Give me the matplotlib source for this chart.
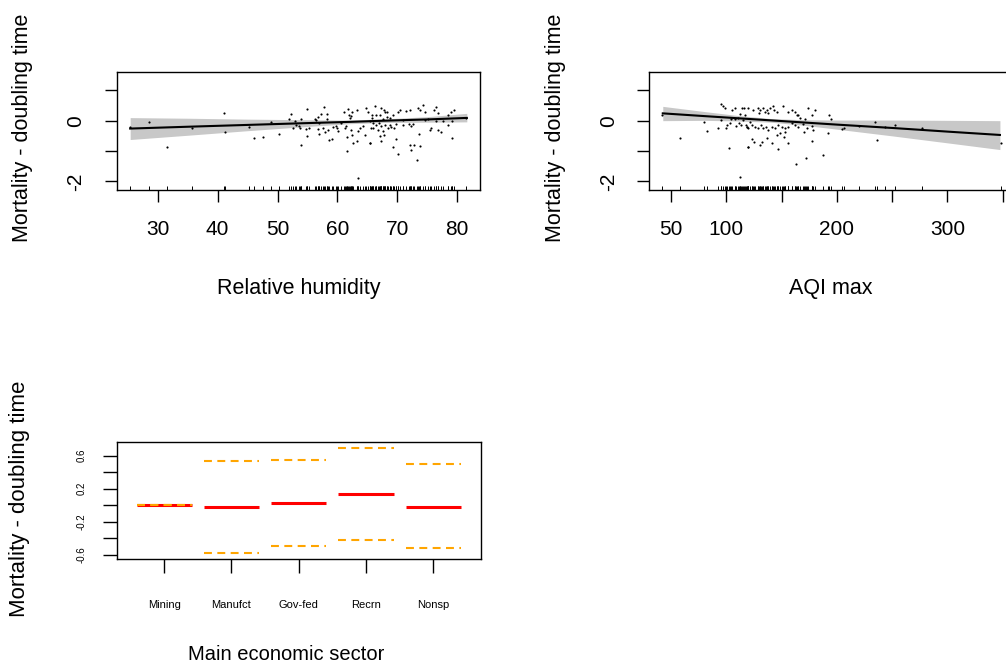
import matplotlib
matplotlib.use("Agg")
import matplotlib.pyplot as plt
import matplotlib.transforms as mtransforms

plt.rcParams['font.family'] = ['Liberation Sans', 'DejaVu Sans']

# ---------------- data: panel 1 (relative humidity) ----------------
rh_x = [25.4, 28.6, 31.5, 35.7, 41.1, 41.3, 45.2, 46.1, 47.5, 48.9, 50.2,
        52.2, 51.9, 52.9, 52.6, 53.1, 53.6, 53.9, 53.7, 54.0, 54.7, 54.9, 54.9,
        55.2, 56.2, 56.4, 56.8, 56.9, 57.2, 57.7, 58.2, 58.2, 56.7, 56.9, 57.6,
        58.0, 58.4, 58.6, 59.1, 59.3, 59.8, 59.9, 60.1, 60.6, 61.2, 61.1, 61.5,
        61.7, 61.9, 62.1, 62.3, 62.4, 63.2, 62.2, 62.4, 61.6, 61.6, 62.6, 63.2,
        63.4, 63.8, 64.3, 64.6, 64.8, 65.1, 65.4, 65.6, 65.7, 63.4,
        66.2, 67.3, 67.7, 68.0, 68.3, 66.5, 67.1, 65.8, 67.6, 68.2, 68.8, 69.3,
        70.1, 70.4, 70.9, 71.4, 72.1, 73.4, 73.7, 74.3, 74.6, 76.2, 76.5, 76.8,
        78.4, 79.0, 79.4, 65.4, 65.9, 66.5, 66.9, 67.3, 67.9, 68.4, 68.7, 69.0,
        69.5, 69.8, 66.0, 66.8, 67.6, 67.1, 67.7, 67.3, 65.4, 70.9, 71.9, 72.3,
        72.6, 73.6, 74.6, 75.1, 75.4, 75.7, 76.5, 76.8, 77.3, 77.6, 78.4, 79.2,
        79.2, 69.7, 69.3, 70.1, 72.1, 72.7, 72.2, 73.8, 73.2, 81.5]
rh_y = [-0.22, -0.06, -0.86, -0.24, 0.25, -0.38, -0.20, -0.58, -0.53, -0.06, -0.43,
        0.23, 0.07, 0.00, -0.24, -0.15, -0.19, 0.07, -0.24, -0.81, -0.26, -0.49, 0.37,
        -0.24, 0.07, 0.03, 0.11, -0.07, 0.23, 0.46, 0.07, 0.23, -0.27, -0.44, -0.24,
        -0.37, -0.30, -0.63, -0.60, -0.20, -0.16, -0.24, -0.35, -0.08, -0.24, 0.28, -0.19,
        0.39, 0.20, 0.09, 0.14, 0.30, 0.36, -0.30, -0.46, -0.55, -1.00, -0.73, -0.68,
        -0.35, -0.24, -0.19, -0.46, 0.42, 0.30, -0.73, -0.24, 0.20, -1.90,
        0.49, 0.42, 0.36, 0.30, 0.28, 0.17, 0.20, 0.09, 0.07, 0.11, 0.09, 0.20,
        0.30, 0.36, 0.03, 0.33, 0.36, 0.42, 0.36, 0.52, 0.30, 0.36, 0.44, 0.25,
        0.17, 0.28, 0.36, 0.00, -0.08, -0.13, -0.08, -0.19, -0.15, -0.24, -0.13, -0.21,
        -0.24, -0.11, -0.24, -0.30, -0.35, -0.51, -0.46, -0.68, -0.73, -0.13, -0.11, -0.19,
        -0.11, -0.43, 0.03, 0.07, -0.30, -0.24, -0.02, -0.30, -0.37, -0.02, -0.15, -0.02,
        -0.57, -0.60, -0.87, -1.11, -0.81, -0.79, -0.98, -0.84, -1.28, 0.09]
rh_grid = [25.4, 35, 45, 55, 62, 68, 75, 81.6]
rh_fit = [-0.26, -0.20, -0.14, -0.08, -0.04, 0.00, 0.04, 0.09]
rh_upper = [0.10, 0.08, 0.05, 0.03, 0.02, 0.06, 0.13, 0.24]
rh_lower = [-0.62, -0.48, -0.33, -0.19, -0.10, -0.06, -0.05, -0.04]

# ---------------- data: panel 2 (AQI max) ----------------
aqi_x = [41.5, 58.2, 79.6, 82.4, 92.4, 94.8, 95.5, 96.9, 99.1, 100.0, 100.9, 102.1,
         103.0, 103.9, 105.1, 107.5, 108.2, 109.1, 110.5, 111.2, 112.1, 113.0, 114.2,
         116.0, 115.1, 116.6, 117.3, 118.2, 119.1, 112.1,
         119.6, 124.2, 128.7, 130.3, 129.4, 133.3, 134.8, 136.4, 137.8, 139.4, 142.4,
         143.3, 145.5, 151.5, 156.0, 159.1, 162.1, 163.6, 165.1, 166.6, 173.6, 180.3,
         177.3, 171.2, 121.2, 118.2, 119.6, 122.7, 125.7, 128.2, 131.2, 133.3, 135.5,
         137.8, 140.9, 143.9, 146.9, 150.0, 153.0, 156.0, 159.1, 162.1, 165.1, 169.6,
         172.7, 177.3, 178.7, 122.7, 119.6, 125.1, 130.3, 132.4, 136.4, 140.9, 145.5,
         148.5, 152.4, 156.0, 146.9, 153.0, 177.3, 170.5, 171.8, 187.3, 162.7, 191.8,
         194.8, 192.4, 204.5, 206.0, 219.6, 234.8, 236.4, 243.9, 253.0, 276.6, 348.5]
aqi_y = [0.17, -0.57, -0.03, -0.34, -0.25, 0.02, 0.55, 0.49, 0.43, -0.25, -0.14, -0.90,
         -0.09, 0.06, 0.36, 0.41, 0.06, -0.19, 0.08, -0.09, 0.21, -0.14, 0.43,
         0.43, 0.02, 0.19, -0.14, -0.20, -0.87, -1.84,
         0.41, 0.36, 0.43, 0.36, 0.25, 0.41, 0.30, 0.36, 0.25, 0.43, 0.47,
         0.36, 0.30, 0.47, 0.30, 0.36, 0.30, 0.17, 0.19, 0.08, 0.41, 0.36,
         0.17, 0.06, -0.03, -0.20, -0.25, -0.14, -0.20, -0.25, -0.14, -0.25, -0.20,
         -0.31, -0.20, -0.25, -0.14, -0.20, -0.25, -0.20, -0.09, -0.14, -0.20, -0.12,
         -0.25, -0.17, -0.31, -0.59, -0.87, -0.70, -0.81, -0.70, -0.57, -0.75, -0.48,
         -0.42, -0.53, -0.75, -0.92, -0.37, -0.68, -0.37, -1.23, -1.14, -1.42, -0.40,
         0.06, 0.19, -0.28, -0.23, -0.18, -0.03, -0.62, -0.22, -0.14, -0.25, -0.73]
aqi_grid = [42.4, 80, 110, 140, 170, 200, 250, 300, 347.5]
aqi_fit = [0.24, 0.15, 0.08, 0.01, -0.06, -0.13, -0.24, -0.36, -0.47]
aqi_upper = [0.47, 0.30, 0.17, 0.07, 0.03, 0.02, 0.02, 0.01, 0.00]
aqi_lower = [0.00, 0.01, -0.01, -0.05, -0.15, -0.28, -0.50, -0.73, -0.95]

# ---------------- data: panel 3 (main economic sector) ----------------
sectors = ['Mining', 'Manufct', 'Gov-fed', 'Recrn', 'Nonsp']
sector_fit = [0.00, -0.024, 0.03, 0.137, -0.017]
sector_upper = [0.00, 0.54, 0.545, 0.69, 0.497]
sector_lower = [0.00, -0.58, -0.49, -0.42, -0.52]

ylabel = 'Mortality - doubling time'

# ---------------- layout helpers ----------------
W, H = 1006, 667
fig = plt.figure(figsize=(W / 100, H / 100), dpi=100)


def add_ax(left, top, right, bottom):
    return fig.add_axes([left / W, 1 - bottom / H, (right - left) / W, (bottom - top) / H])


def ftext(x, y, s, **kw):
    fig.text(x / W, 1 - y / H, s, ha='center', va='center', **kw)


def style(ax, tick_len=8.5):
    for sp in ax.spines.values():
        sp.set_linewidth(1.0)
        sp.set_color('black')
    ax.tick_params(direction='out', length=tick_len, width=1.0, colors='black')


def smooth_panel(ax, x, y, grid, fit, lo, hi, xlim, xticks, xlabels):
    ax.fill_between(grid, lo, hi, color='#c8c8c8', linewidth=0, zorder=1)
    ax.plot(grid, fit, color='black', lw=1.5, zorder=3)
    ax.scatter(x, y, s=2.4, color='black', linewidths=0, zorder=4)
    trans = mtransforms.blended_transform_factory(ax.transData, ax.transAxes)
    ax.vlines(x, 0, 0.035, transform=trans, color='black', lw=0.7, zorder=5)
    ax.set_xlim(*xlim)
    ax.set_ylim(-2.28, 1.6)
    ax.set_xticks(xticks)
    ax.set_xticklabels(xlabels, fontsize=15)
    ax.set_yticks([-2, -1, 0, 1])
    ax.set_yticklabels(['-2', '', '0', ''], fontsize=15, rotation=90, va='center')
    style(ax)
    ax.tick_params(axis='x', pad=13)
    ax.tick_params(axis='y', pad=14)


# Panel 1
ax1 = add_ax(116.7, 72, 480.3, 190)
smooth_panel(ax1, rh_x, rh_y, rh_grid, rh_fit, rh_lower, rh_upper,
             (23.15, 83.85), [30, 40, 50, 60, 70, 80],
             ['30', '40', '50', '60', '70', '80'])
ftext(298.5, 289, 'Relative humidity', fontsize=15.5)
ftext(23, 128, ylabel, fontsize=15.5, rotation=90)

# Panel 2 (right edge runs past the figure, as in the reference)
ax2 = add_ax(649.3, 72, 1013.4, 190)
smooth_panel(ax2, aqi_x, aqi_y, aqi_grid, aqi_fit, aqi_lower, aqi_upper,
             (30.2, 359.7), [50, 100, 150, 200, 250, 300, 350],
             ['50', '100', '', '200', '', '300', ''])
ftext(831, 289, 'AQI max', fontsize=15.5)
ftext(555, 128, ylabel, fontsize=15.5, rotation=90)

# Panel 3
ax3 = add_ax(116.7, 441.7, 481, 559.3)
pos = list(range(1, len(sectors) + 1))
ax3.hlines(sector_fit, [p - 0.41 for p in pos], [p + 0.41 for p in pos],
           color='#ff0000', lw=2.2, zorder=2)
for yv in (sector_upper, sector_lower):
    for p, v in zip(pos, yv):
        ax3.plot([p - 0.41, p + 0.41], [v, v], color='#ffa500', lw=1.5,
                 linestyle=(0, (3.8, 2.6)), zorder=3)
ax3.set_xlim(0.293, 5.71)
ax3.set_ylim(-0.655, 0.77)
ax3.set_xticks(pos)
ax3.set_xticklabels(sectors, fontsize=8)
ax3.set_yticks([-0.6, -0.4, -0.2, 0.0, 0.2, 0.4, 0.6])
ax3.set_yticklabels(['-0.6', '', '-0.2', '', '0.2', '', '0.6'], fontsize=7,
                    rotation=90, va='center')
style(ax3, tick_len=10)
ax3.tick_params(axis='x', pad=19)
ax3.tick_params(axis='y', pad=12)
ftext(286, 655, 'Main economic sector', fontsize=14.5)
ftext(20, 499, ylabel, fontsize=16, rotation=90)

fig.savefig('out.png', dpi=100)
